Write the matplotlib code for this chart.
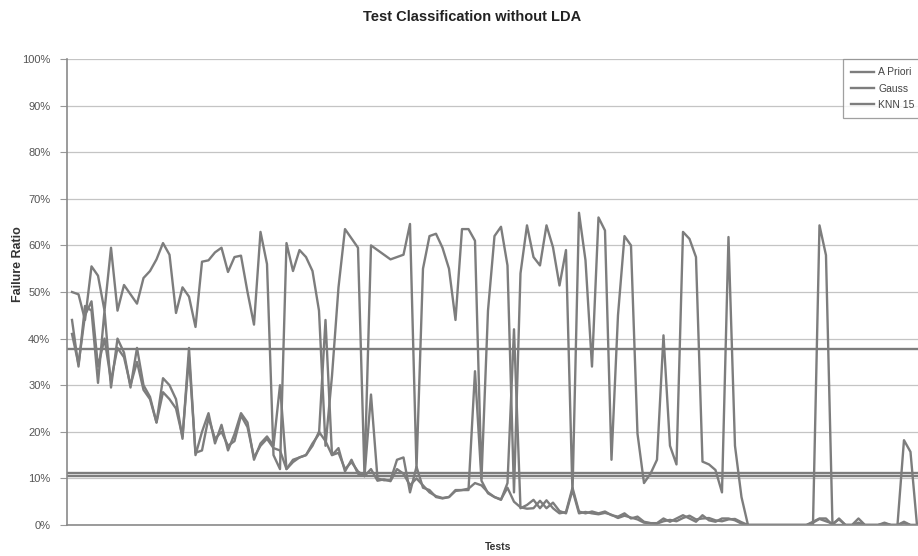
import matplotlib.pyplot as plt
import numpy as np

plt.rcParams['font.family'] = ['Liberation Sans', 'DejaVu Sans']

# failure ratio per test (%)
gauss = [50, 49.5, 44, 55.5, 53.5, 46, 59.5, 46, 51.5, 49.5,
         47.5, 53, 54.5, 57, 60.5, 58, 45.5, 51, 49, 42.5,
         56.5, 56.8, 58.5, 59.5, 54.3, 57.5, 57.8, 50, 43, 62.9,
         56, 15, 12, 60.5, 54.5, 59, 57.5, 54.5, 46, 17,
         32, 51, 63.5, 61.5, 59.5, 10.5, 60, 59, 58, 57,
         57.5, 58, 64.6, 12, 55, 62, 62.5, 59.5, 55, 44,
         63.5, 63.5, 61, 10, 46, 62, 64, 55.7, 7, 54,
         64.3, 57.5, 55.7, 64.3, 59.6, 51.4, 59, 6.8, 67, 56.8,
         34, 66, 63.2, 14, 45, 62, 60, 19.6, 9, 11,
         14, 40.7, 17, 13, 62.9, 61.4, 57.5, 13.6, 13, 11.8,
         7, 61.8, 17, 6, 0, 0, 0, 0, 0, 0,
         0, 0, 0, 0, 0, 64.3, 57.9, 0, 0, 0,
         0, 0, 0, 0, 0, 0, 0, 0, 18.2, 15.7,
         0]

a_priori = [44, 34, 47, 46, 30.5, 46, 29.5, 40, 37, 29.5,
            38, 30, 27.5, 22, 31.5, 30, 27, 18.5, 38, 15,
            20, 24, 17.5, 21.5, 16, 19.5, 24, 22, 14, 17.5,
            19, 17, 30, 12, 13.5, 14.5, 15, 17.5, 19.5, 44,
            15, 16.5, 11.5, 14, 11, 10.5, 28, 10, 9.6, 9.6,
            14, 14.5, 7, 12.5, 8, 7.5, 6, 5.7, 6, 7.5,
            7.5, 7.5, 33, 9.5, 6.8, 6, 5.4, 9, 42, 3.6,
            4.3, 5.4, 3.6, 5.3, 3.6, 2.5, 2.8, 8, 2.9, 2.5,
            2.9, 2.5, 2.9, 2.1, 1.8, 2.5, 1.4, 1.8, 0.7, 0.4,
            0.4, 1.4, 0.7, 1.4, 2.1, 1.4, 0.7, 2.1, 1, 0.7,
            1.4, 1.4, 1, 0.3, 0, 0, 0, 0, 0, 0,
            0, 0, 0, 0, 0.7, 1.4, 1.4, 0, 1.4, 0,
            0, 1.4, 0, 0, 0, 0.5, 0, 0, 0.7, 0,
            0]

knn15 = [41, 34.5, 45, 48, 34, 40, 31, 38, 36, 30,
         35, 29, 27, 22, 28.5, 27, 25, 19, 36, 15.5,
         16, 23, 18.5, 20, 17, 18, 23.5, 21, 14.5, 17,
         18.5, 16.5, 16, 12, 14, 14.5, 15, 17, 20, 18,
         15, 15.5, 12, 13.5, 11.5, 10.5, 12, 9.5, 9.8, 9.4,
         12, 11, 8.5, 10, 8.5, 7, 6.2, 5.8, 6, 7.3,
         7.5, 7.8, 9, 8.5, 7, 6, 5.5, 8, 5, 3.8,
         3.5, 3.6, 5.2, 3.6, 4.8, 3, 2.5, 7.5, 2.5, 2.8,
         2.5, 2.3, 2.6, 2.2, 1.5, 2, 1.6, 1.2, 0.5, 0.4,
         0.3, 0.8, 1.1, 0.8, 1.5, 2, 1.2, 1.4, 1.5, 1,
         0.8, 1.2, 1.3, 0.6, 0, 0, 0, 0, 0, 0,
         0, 0, 0, 0, 0.5, 1.3, 0.8, 0.3, 1.2, 0,
         0, 0.5, 0, 0, 0, 0.3, 0, 0, 0.4, 0,
         0]

# average lines (%)
means = [37.8, 11.2, 10.5]

line_col = '#7d7d7d'

fig = plt.figure(figsize=(9.18, 5.56), dpi=100)
# plot area runs a little past the right edge, like the scan
ax = fig.add_axes([67/918, 31/556, 862/918, 466/556])

tests = np.arange(len(gauss))
ax.plot(tests, a_priori, color=line_col, lw=1.7, label='A Priori')
ax.plot(tests, gauss, color=line_col, lw=1.7, label='Gauss')
ax.plot(tests, knn15, color=line_col, lw=1.7, label='KNN 15')
for m in means:
    ax.axhline(m, color=line_col, lw=1.7)

ax.set_xlim(-0.77, 131.85)
ax.set_ylim(0, 100)
ax.set_yticks(np.arange(0, 101, 10))
ax.set_yticklabels([f'{v}%' for v in range(0, 101, 10)], fontsize=8, color='#555555')
ax.set_xticks([])
ax.tick_params(axis='y', length=5, color='#999999', pad=7)
ax.grid(axis='y', color='#c4c4c4', lw=0.9)
ax.set_axisbelow(True)

for side in ['top', 'right']:
    ax.spines[side].set_visible(False)
for side in ['left', 'bottom']:
    ax.spines[side].set_color('#8a8a8a')
    ax.spines[side].set_linewidth(1.2)

fig.text(472/918, 1 - 17/556, 'Test Classification without LDA', ha='center', va='center',
         fontsize=10.5, fontweight='bold', color='#222222')
fig.text(18/918, 1 - 264/556, 'Failure Ratio', rotation=90, ha='center', va='center',
         fontsize=9, fontweight='bold', color='#333333')
fig.text(498/918, 1 - 547/556, 'Tests', ha='center', va='center',
         fontsize=7.5, fontweight='bold', color='#333333')

leg = ax.legend(loc='upper left', bbox_to_anchor=((843 - 67)/862, 1.0), fontsize=7.5,
                frameon=True, fancybox=False, handlelength=2.2, borderpad=0.8,
                labelspacing=0.6, handletextpad=0.4, borderaxespad=0)
leg.get_frame().set_edgecolor('#888888')
leg.get_frame().set_linewidth(0.9)
for t in leg.get_texts():
    t.set_color('#444444')

fig.savefig('out.png', dpi=100)
